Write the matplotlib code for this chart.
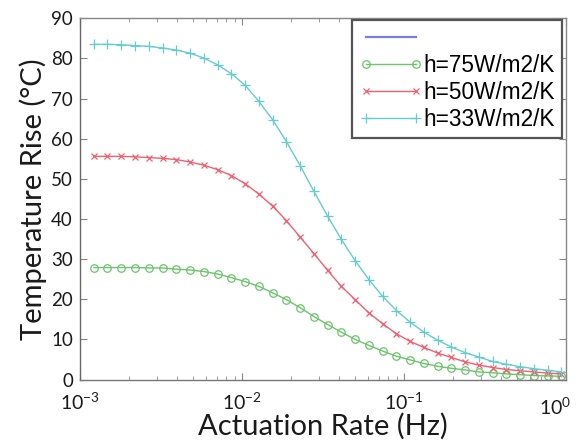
import matplotlib
matplotlib.use("Agg")
import matplotlib.pyplot as plt
from matplotlib.ticker import LogLocator, NullFormatter, FixedLocator
from matplotlib.transforms import ScaledTranslation

# Actuation rate (Hz) at marker points
freq = [0.00122, 0.00148, 0.00180, 0.00219, 0.00267, 0.00324, 0.00394, 0.00479,
        0.00582, 0.00708, 0.00861, 0.01047, 0.01273, 0.01548, 0.01881, 0.02287,
        0.0278, 0.0338, 0.0411, 0.0500, 0.0608, 0.0739, 0.0899, 0.1092,
        0.1328, 0.1615, 0.1963, 0.2387, 0.2902, 0.3528, 0.4290, 0.5216,
        0.6342, 0.7711, 0.9375]

t_h75 = [27.9, 27.9, 27.9, 27.9, 27.8, 27.8, 27.5, 27.3, 26.9, 26.3, 25.4, 24.4,
         23.2, 21.6, 19.9, 17.9, 15.7, 13.7, 11.8, 10.0, 8.5, 7.1, 5.8, 4.9,
         4.0, 3.3, 2.8, 2.4, 1.9, 1.7, 1.4, 1.2, 1.0, 0.9, 0.8]

t_h50 = [55.6, 55.6, 55.6, 55.5, 55.3, 55.1, 54.8, 54.2, 53.4, 52.3, 50.8, 48.8,
         46.2, 43.2, 39.6, 35.5, 31.4, 27.2, 23.2, 19.9, 16.6, 13.9, 11.4, 9.5,
         8.0, 6.6, 5.5, 4.4, 3.6, 3.0, 2.5, 2.2, 1.9, 1.6, 1.4]

t_h33 = [83.5, 83.5, 83.4, 83.2, 83.0, 82.6, 82.1, 81.3, 80.1, 78.4, 76.2, 73.3,
         69.3, 64.7, 59.3, 53.3, 46.9, 40.7, 34.9, 29.6, 24.9, 20.7, 17.2, 14.3,
         11.8, 9.8, 8.1, 6.7, 5.6, 4.5, 3.8, 3.2, 2.7, 2.3, 1.9]

labels = ["h=75W/m2/K", "h=50W/m2/K", "h=33W/m2/K"]
x_ticks = [1e-3, 1e-2, 1e-1, 1e0]
x_tick_labels = ["10$^{-3}$", "10$^{-2}$", "10$^{-1}$", "10$^{0}$"]
y_ticks = [0, 10, 20, 30, 40, 50, 60, 70, 80, 90]

plt.rcParams['mathtext.fontset'] = 'custom'
plt.rcParams['mathtext.rm'] = 'Lato'
plt.rcParams['mathtext.it'] = 'Lato'

fig = plt.figure(figsize=(5.79, 4.46), dpi=100)
ax = fig.add_axes([0.138, 0.149, 0.8395, 0.810])

c_blue = '#7b7bef'
c_green = '#6cc46c'
c_red = '#f06070'
c_cyan = '#66cccc'

ax.plot([], [], color=c_blue, lw=1.6, label=' ')
ax.plot(freq, t_h75, color=c_green, lw=1.0, marker='o', ms=5.4, mfc='none',
        mec=c_green, mew=0.9, label=labels[0])
ax.plot(freq, t_h50, color=c_red, lw=1.0, marker='x', ms=4.5,
        mec=c_red, mew=0.9, label=labels[1])
ax.plot(freq, t_h33, color=c_cyan, lw=1.0, marker='+', ms=6.5,
        mec=c_cyan, mew=0.9, label=labels[2])

ax.set_xscale('log')
ax.set_xlim(1e-3, 1e0)
ax.set_ylim(0, 90)
ax.xaxis.set_major_locator(FixedLocator(x_ticks))
ax.set_xticks(x_ticks)
ax.set_xticklabels(x_tick_labels[:-1] + [""])
ax.xaxis.set_minor_locator(LogLocator(base=10, subs=range(2, 10)))
ax.xaxis.set_minor_formatter(NullFormatter())
ax.set_yticks(y_ticks)
ax.set_yticklabels([str(v) for v in y_ticks])

for s in ax.spines.values():
    s.set_color('#888888')
    s.set_linewidth(1.0)
ax.spines['left'].set_color('#666666')
ax.spines['bottom'].set_color('#777777')

ax.tick_params(axis='both', which='both', direction='in', top=True, right=True,
               colors='#888888', labelcolor='#1a1a1a')
ax.tick_params(axis='both', which='major', length=5, width=0.8)
ax.tick_params(axis='x', which='minor', length=3, width=0.6)
ax.tick_params(axis='y', which='major', labelsize=13.5, pad=5)
ax.tick_params(axis='x', which='major', labelsize=14, pad=9)
for lab in ax.get_xticklabels() + ax.get_yticklabels():
    lab.set_fontfamily('Lato')

# last x tick label, nudged left so it stays inside the figure
ax.text(x_ticks[-1], 0, x_tick_labels[-1], fontsize=14, family='Lato',
        color='#1a1a1a', ha='center', va='top',
        transform=ax.get_xaxis_transform() +
        ScaledTranslation(-8 / 72, -12 / 72, fig.dpi_scale_trans),
        clip_on=False)

ax.set_xlabel('Actuation Rate (Hz)', fontsize=21, family='Lato', labelpad=0,
              color='#1a1a1a')
ax.set_ylabel('Temperature Rise (°C)', fontsize=21, family='Lato', labelpad=3,
              color='#1a1a1a')

leg = ax.legend(loc='upper right', bbox_to_anchor=(0.992, 0.995), numpoints=2,
                handlelength=2.8, handletextpad=0.05, borderpad=0.3,
                labelspacing=0.18, fancybox=False, framealpha=1,
                prop={'family': 'Liberation Sans', 'size': 16.3},
                borderaxespad=0.0)
frame = leg.get_frame()
frame.set_edgecolor('#555555')
frame.set_linewidth(1.6)

fig.savefig('out.png', dpi=100)
